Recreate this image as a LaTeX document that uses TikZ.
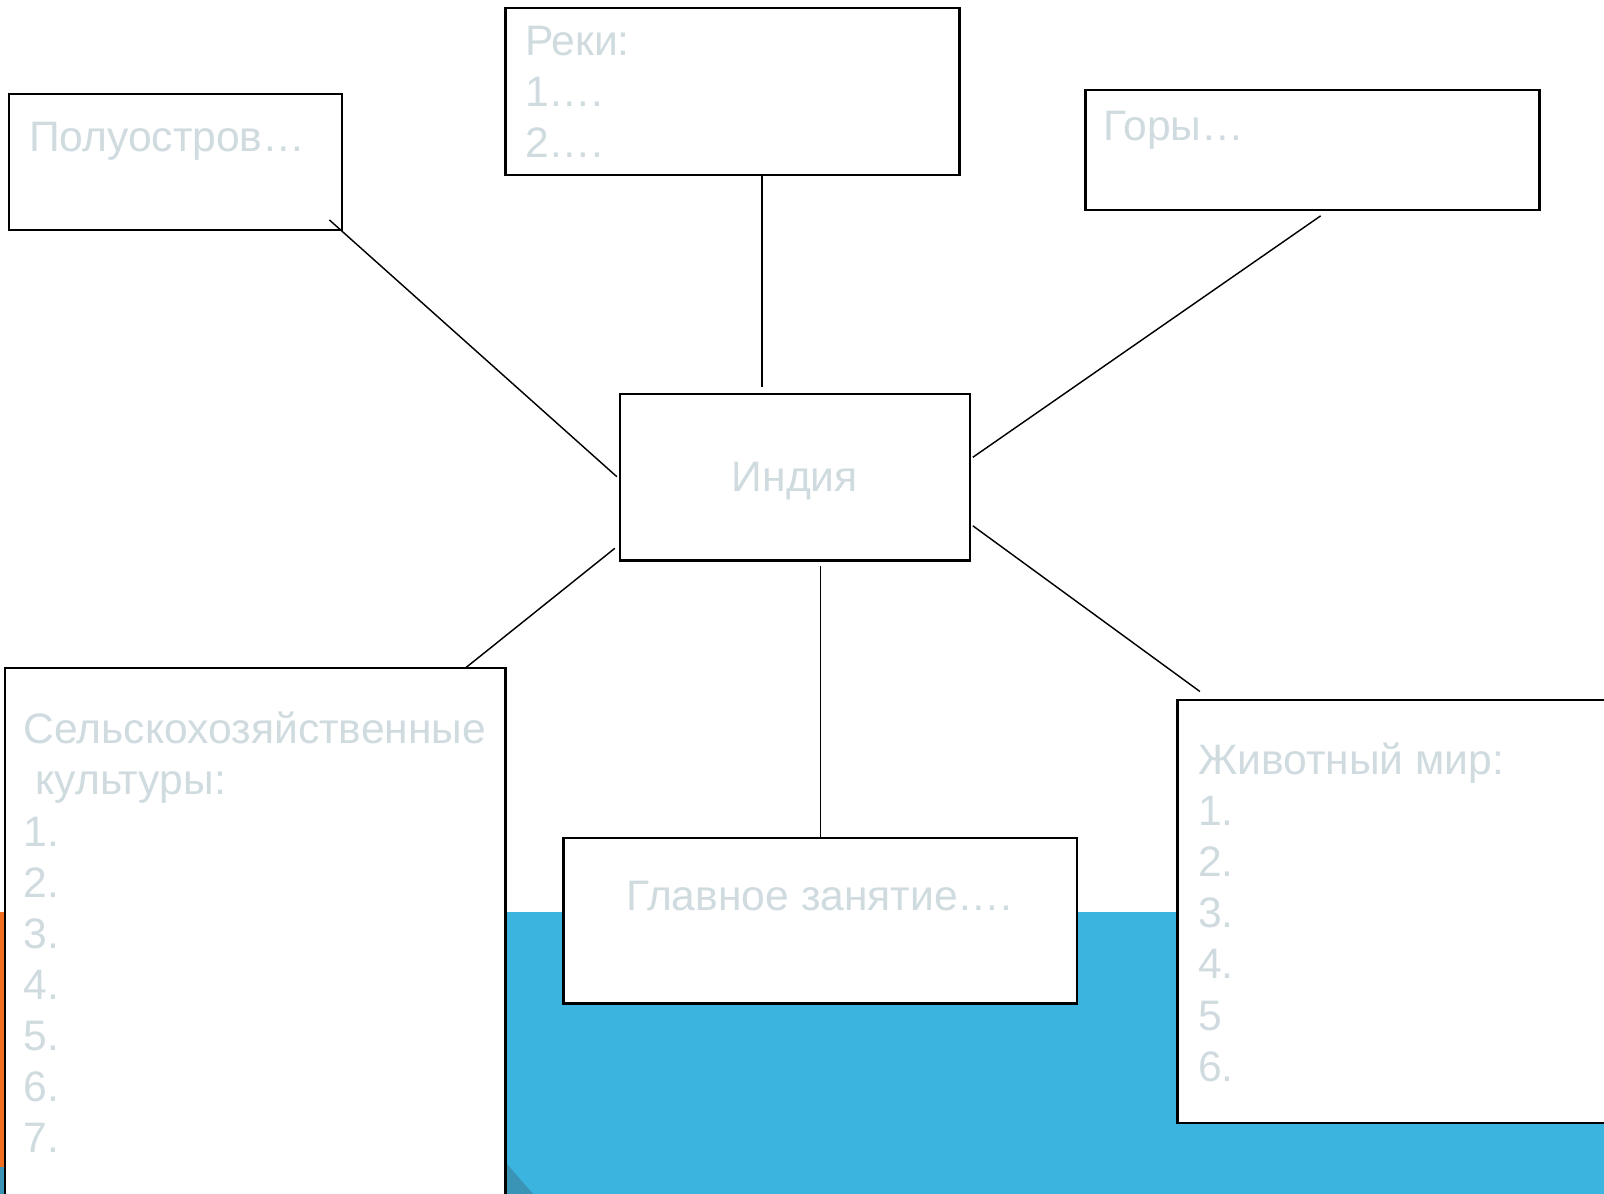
\documentclass[tikz,border=0pt]{standalone}
\usepackage{fontspec}
\setmainfont{Liberation Sans}
\definecolor{pale}{RGB}{207,219,223}
\definecolor{sea}{RGB}{59,180,224}
\definecolor{deepsea}{RGB}{58,148,182}
\definecolor{rust}{RGB}{242,110,32}

\begin{document}
\begin{tikzpicture}[x=0.2mm,y=-0.2mm,
    box/.style={draw,fill=white,line width=1.3pt,inner sep=0pt},
    txt/.style={text=pale,inner sep=0pt,anchor=base west},
    link/.style={line width=0.8pt}]
    \fontsize{23.7pt}{28pt}\selectfont
    \clip (0,0) rectangle (1568,1167);
    \fill[white] (0,0) rectangle (1568,1167);
    \fill[sea] (0,892) rectangle (1568,1167);
    \fill[rust] (0,892) rectangle (4,1141);
    \fill[deepsea] (0,1141) rectangle (4,1167);
    \fill[deepsea] (494,1136) -- (521,1167) -- (494,1167) -- cycle;

    \node[box,minimum width=65mm,minimum height=26.6mm] (pol) at (171.5,158.5) {};
    \node[box,minimum width=88.8mm,minimum height=32.6mm] (reki) at (716,89.5) {};
    \node[box,minimum width=88.8mm,minimum height=23.4mm] (gory) at (1283,146.5) {};
    \node[box,minimum width=68.4mm,minimum height=32.6mm,text=pale,text depth=0pt]
      (india) at (777,466.5) {Индия};
    \node[box,minimum width=97.8mm,minimum height=105.4mm] (agro) at (249.5,916.5) {};
    \node[box,minimum width=100.4mm,minimum height=32.4mm] (glav) at (802,900) {};
    \node[box,minimum width=85.8mm,minimum height=82.8mm] (zhiv) at (1365.5,891) {};

    \node[txt] (pol-t) at (28,148) {Полуостров…};
    \node[txt] (reki-t) at (513,54) {Реки:};
    \foreach \i in {1,2}
      \node[txt] (reki-\i) at (513,54+50*\i) {\i….};
    \node[txt] (gory-t) at (1078,137) {Горы…};
    \node[txt] (agro-t) at (23,727) {Сельскохозяйственные};
    \node[txt] (agro-t2) at (23,777) {\ культуры:};
    \foreach \i in {1,...,7}
      \node[txt] (agro-\i) at (23,777+50*\i) {\i.};
    \node[txt,anchor=base] (glav-t) at (801,890) {Главное занятие….};
    \node[txt] (zhiv-t) at (1171,757) {Животный мир:};
    \foreach \n [count=\i] in {1.,2.,3.,4.,5,6.}
      \node[txt] (zhiv-\i) at (1171,757+50*\i) {\n};

    \coordinate (pol-a) at (322,215);
    \coordinate (india-pol) at (603,466);
    \coordinate (reki-a) at (745,171);
    \coordinate (india-reki) at (745,378);
    \coordinate (gory-a) at (1291,211);
    \coordinate (india-gory) at (951,447);
    \coordinate (agro-a) at (455,653);
    \coordinate (india-agro) at (601,536);
    \coordinate (glav-a) at (802,819);
    \coordinate (india-glav) at (802,553);
    \coordinate (zhiv-a) at (1173,676);
    \coordinate (india-zhiv) at (951,514);
    \draw[link] (pol-a) -- (india-pol);
    \draw[link] (reki-a) -- (india-reki);
    \draw[link] (gory-a) -- (india-gory);
    \draw[link] (agro-a) -- (india-agro);
    \draw[link] (glav-a) -- (india-glav);
    \draw[link] (zhiv-a) -- (india-zhiv);
  \end{tikzpicture}
\end{document}
